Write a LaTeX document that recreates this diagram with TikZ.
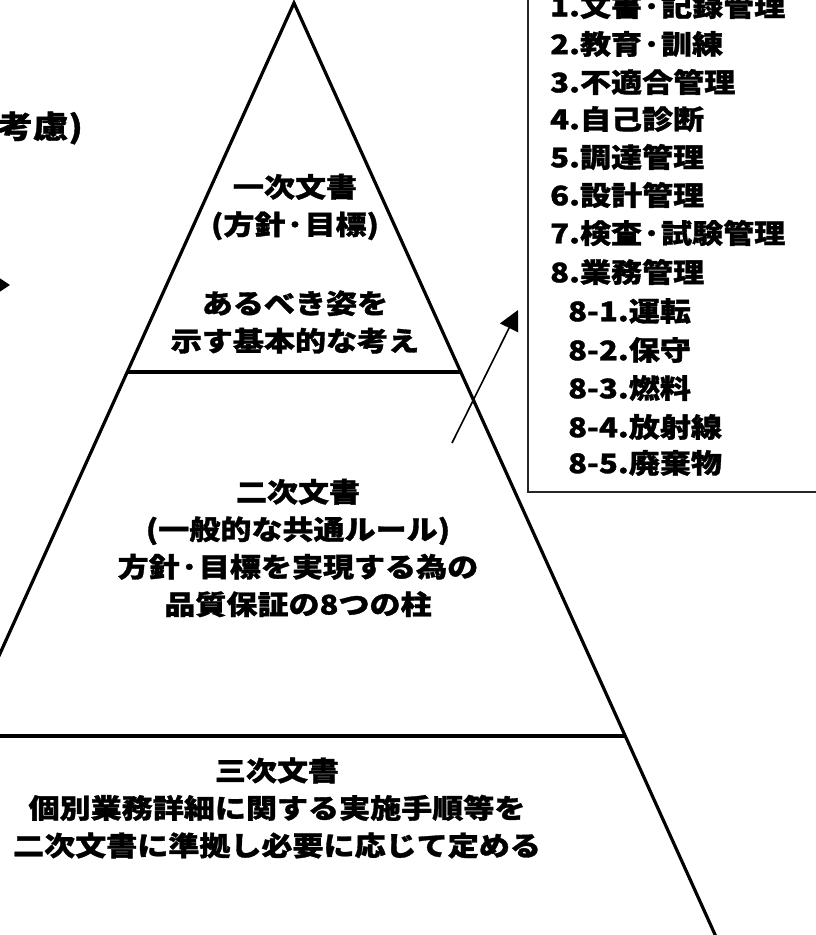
\documentclass[tikz,border=0pt]{standalone}
\usepackage{fontspec}
\setmainfont{Noto Sans CJK JP}[FakeStretch=1.15, BoldFeatures={FakeBold=1.2}]
\usetikzlibrary{arrows.meta}
\begin{document}
\begin{tikzpicture}[x=1pt,y=-1pt,
  edge/.style={line width=3.2pt, line join=miter, line cap=butt},
  divider/.style={line width=3.4pt},
  txt/.style={font=\bfseries\fontsize{27}{37.5}\selectfont, align=center, inner sep=0pt},
  item/.style={font=\bfseries\fontsize{27}{38}\selectfont, anchor=west, inner sep=0pt},
  pointer/.style={line width=1.6pt, -{Triangle[length=20pt,width=20pt]}},
  listframe/.style={line width=1.5pt, draw=black!85},
]
\useasboundingbox (0,0) rectangle (816,935);
\clip (0,0) rectangle (816,935);
% pyramid
\coordinate (apex) at (294,3);
\coordinate (bl) at (-129,939);
\coordinate (br) at (717,939);
\draw[edge] (bl) -- (apex) -- (br);
\coordinate (d1l) at (127,372);
\coordinate (d1r) at (461,372);
\coordinate (d2l) at (-40,736);
\coordinate (d2r) at (625,736);
\draw[divider] (d1l) -- (d1r);
\draw[divider] (d2l) -- (d2r);
% list box
\coordinate (boxa) at (528,-10);
\coordinate (boxb) at (830,492);
\draw[listframe] (boxa) rectangle (boxb);
% arrows
\coordinate (ptail) at (452,443);
\coordinate (ptip) at (518,310);
\draw[pointer] (ptail) -- (ptip);
\coordinate (la) at (-40,285);
\coordinate (lb) at (10,285);
\draw[line width=1.6pt, -{Triangle[length=20pt,width=26pt]}] (la) -- (lb);
% texts
\node[txt, anchor=east, font=\bfseries\fontsize{31}{37}\selectfont] (kouryo) at (83,128) {考慮)};
\node[txt] (t1a) at (295,207) {一次文書\\(方針·目標)};
\node[txt] (t1b) at (295,322) {あるべき姿を\\示す基本的な考え};
\node[txt] (t2) at (298,548) {二次文書\\(一般的な共通ルール)\\方針·目標を実現する為の\\品質保証の8つの柱};
\node[txt] (t3) at (277,808) {三次文書\\個別業務詳細に関する実施手順等を\\二次文書に準拠し必要に応じて定める};
% list items
\node[item] (l1) at (550,6) {1.文書·記録管理};
\node[item] (l2) at (550,44) {2.教育·訓練};
\node[item] (l3) at (550,82) {3.不適合管理};
\node[item] (l4) at (550,119) {4.自己診断};
\node[item] (l5) at (550,157) {5.調達管理};
\node[item] (l6) at (550,195) {6.設計管理};
\node[item] (l7) at (550,233) {7.検査·試験管理};
\node[item] (l8) at (550,272) {8.業務管理};
\node[item] (l81) at (568,311) {8-1.運転};
\node[item] (l82) at (568,350) {8-2.保守};
\node[item] (l83) at (568,388) {8-3.燃料};
\node[item] (l84) at (568,427) {8-4.放射線};
\node[item] (l85) at (568,463) {8-5.廃棄物};
\end{tikzpicture}
\end{document}
